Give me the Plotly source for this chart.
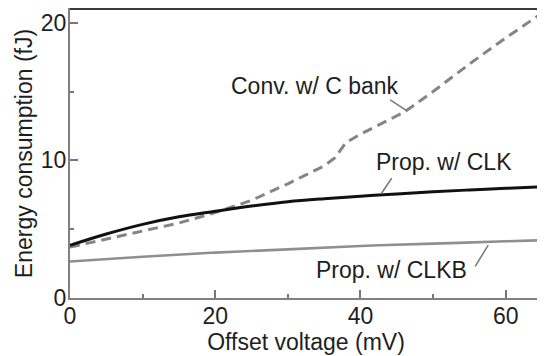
import plotly.graph_objects as go

# Data
clk_x = [0, 5, 10, 15, 20, 25, 30, 35, 40, 45, 50, 55, 60, 65]
clk_y = [3.83, 4.65, 5.35, 5.9, 6.3, 6.68, 7.0, 7.22, 7.4, 7.56, 7.72, 7.85, 7.97, 8.08]

clkb_x = [0, 10, 20, 30, 40, 50, 60, 65]
clkb_y = [2.65, 3.0, 3.3, 3.53, 3.78, 3.95, 4.12, 4.2]

conv_x = [0, 5, 10, 15, 20, 25, 30, 35, 36.5, 38, 40, 46, 50, 55, 60, 65]
conv_y = [3.7, 4.3, 4.85, 5.45, 6.2, 7.1, 8.3, 9.6, 10.2, 11.3, 11.9, 13.5, 15.0, 17.0, 18.9, 20.7]

labels = ["Conv. w/ C bank", "Prop. w/ CLK", "Prop. w/ CLKB"]
label_x = [33.7, 51.45, 44.3]
label_y = [15.37, 9.87, 2.04]
leader_x0 = [44.1, 44.3, 57.6]
leader_y0 = [14.4, 8.7, 3.85]
leader_x1 = [46.4, 42.9, 55.8]
leader_y1 = [13.6, 7.61, 2.3]

FONT = "Liberation Sans, Arial, sans-serif"
TXT = "#1e1e1e"

fig = go.Figure()
fig.add_trace(go.Scatter(x=clkb_x, y=clkb_y, mode="lines", line=dict(color="#8f8f8f", width=2.6, shape="spline"), showlegend=False))
fig.add_trace(go.Scatter(x=conv_x, y=conv_y, mode="lines", line=dict(color="#858585", width=3, dash="10px,6px"), showlegend=False))
fig.add_trace(go.Scatter(x=clk_x, y=clk_y, mode="lines", line=dict(color="#111111", width=3, shape="spline"), showlegend=False))

for t, x, y in zip(labels, label_x, label_y):
    fig.add_annotation(x=x, y=y, text=t, showarrow=False, font=dict(family=FONT, size=23, color=TXT))

for x0, y0, x1, y1 in zip(leader_x0, leader_y0, leader_x1, leader_y1):
    fig.add_shape(type="line", x0=x0, y0=y0, x1=x1, y1=y1, line=dict(color="#777777", width=1.5))

# darker top frame line
fig.add_shape(type="line", xref="paper", yref="paper", x0=0, x1=1, y0=1, y1=1, line=dict(color="#3a3a3a", width=2))

fig.update_xaxes(range=[0, 65], tickvals=[0, 20, 40, 60], ticks="inside", ticklen=8, tickwidth=1.5,
                 tickcolor="#777777", showline=True, linecolor="#808080", linewidth=2, mirror=True,
                 showgrid=False, zeroline=False, automargin=False,
                 minor=dict(tickvals=[10, 30, 50], ticks="inside", ticklen=4, tickcolor="#777777", tickwidth=1.5),
                 tickfont=dict(family=FONT, size=23, color=TXT), ticklabelstandoff=-4,
                 title=dict(text="Offset voltage (mV)", font=dict(family=FONT, size=23, color=TXT), standoff=4))
fig.update_yaxes(range=[0, 21], tickvals=[0, 10, 20], ticks="inside", ticklen=8, tickwidth=1.5,
                 tickcolor="#777777", showline=True, linecolor="#808080", linewidth=2, mirror=True,
                 showgrid=False, zeroline=False, automargin=False,
                 minor=dict(tickvals=[5, 15], ticks="inside", ticklen=4, tickcolor="#777777", tickwidth=1.5),
                 tickfont=dict(family=FONT, size=23, color=TXT), ticklabelstandoff=-3,
                 title=dict(text="Energy consumption (fJ)", font=dict(family=FONT, size=23, color=TXT), standoff=2))

# page body has an 8px margin, so the figure is sized to fit the 545x356 window
fig.update_layout(width=537, height=348, margin=dict(l=62, r=3, t=1, b=58),
                  paper_bgcolor="white", plot_bgcolor="white")

fig.write_html("out.html")
